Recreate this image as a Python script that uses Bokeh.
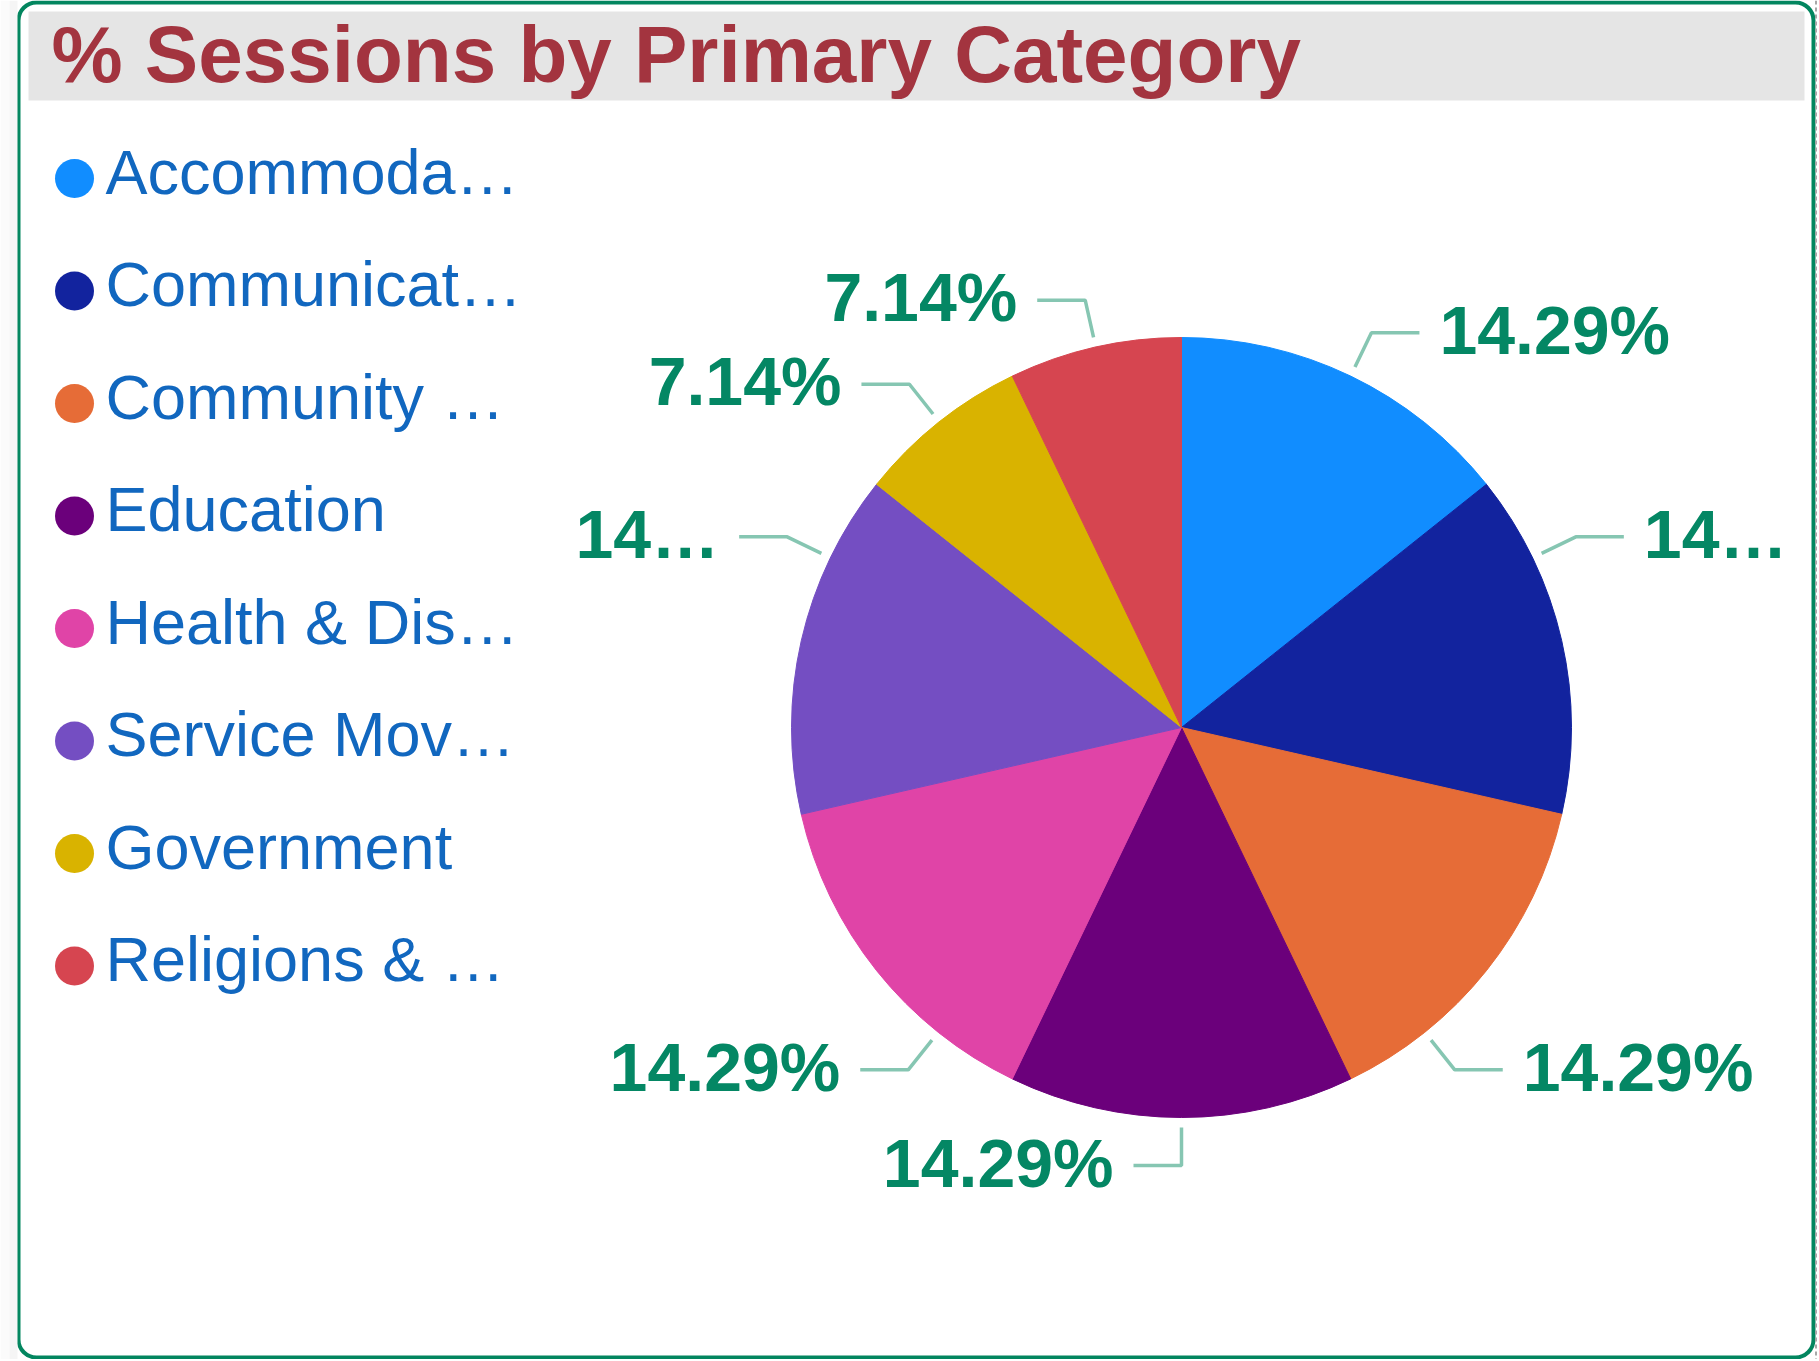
import math
from bokeh.plotting import figure
from bokeh.models import Range1d, ColumnDataSource, BoxAnnotation
from bokeh.embed import file_html
from bokeh.resources import INLINE
from bokeh.core.properties import value

# ---------------- data ----------------
categories = ["Accommoda…", "Communicat…", "Community …", "Education",
              "Health & Dis…", "Service Mov…", "Government", "Religions & …"]
sessions = [2, 2, 2, 2, 2, 2, 1, 1]
colors = ["#118DFF", "#12239E", "#E66C37", "#6B007B",
          "#E044A7", "#744EC2", "#D9B300", "#D64550"]
title_text = "% Sessions by Primary Category"

# ---------------- layout (not data) ----------------
# angle (deg, clockwise from 12 o'clock) where each leader line leaves the pie
label_angle_deg = [25.7, 64.2, 141.4, 180.0, 218.6, 295.8, 321.6, 347.3]
# labels clipped by the visual (None = full text)
label_max_chars = [None, 2, None, None, None, 2, None, None]

W, H = 1817, 1359
BASE_FIX = 0.38  # svg alphabetic-baseline correction (em)


def Y(py):
    """page-pixel y (downwards) -> data y"""
    return H - py


def YT(py, size):
    """baseline position for text of given px size"""
    return H - (py - BASE_FIX * size)


CX, CY, R = 1181, 727, 390
FONT = value("Liberation Sans")
LABEL_GREEN = "#048764"

p = figure(width=W, height=H, x_range=Range1d(0, W), y_range=Range1d(0, H),
           output_backend="svg", toolbar_location=None, min_border=0,
           x_axis_type=None, y_axis_type=None)
p.grid.visible = False
p.outline_line_color = None
p.background_fill_color = "white"
p.border_fill_color = "white"

# faint shadow left of the card and strip right of it
p.quad(left=[0, 9], right=[9, 17], bottom=[Y(1361)] * 2, top=[Y(0)] * 2,
       fill_color=["#fbfbfb", "#f5f5f5"], line_color=None)
p.segment(x0=[1816], y0=[Y(0)], x1=[1816], y1=[Y(1361)],
          line_color="#a8a8a8", line_width=3, line_dash="4 3")

# card border
card = BoxAnnotation(left=18, right=1813, top=Y(2), bottom=Y(1357),
                     fill_color="white", fill_alpha=1.0,
                     line_color="#03865F", line_alpha=1.0, line_width=4,
                     border_radius=18, level="underlay")
p.add_layout(card)

# title band + title
p.quad(left=[28], right=[1804], top=[Y(11)], bottom=[Y(100)],
       fill_color="#E5E5E5", line_color=None)
p.text(x=[51], y=[YT(84, 80)], text=[title_text], text_font=FONT,
       text_font_style="bold", text_font_size="80px", text_color="#A3343F",
       text_baseline="alphabetic", text_align="left")

# pie
total = sum(sessions)
fracs = [s / total for s in sessions]
starts, ends = [], []
cum = 0.0
for f in fracs:
    a0 = cum * 2 * math.pi
    a1 = (cum + f) * 2 * math.pi
    starts.append(math.pi / 2 - a1)
    ends.append(math.pi / 2 - a0)
    cum += f

pie_src = ColumnDataSource(dict(start=starts, end=ends, color=colors,
                                cat=categories))
p.wedge(x=CX, y=Y(CY), radius=R, start_angle="start", end_angle="end",
        fill_color="color", line_color="color", line_width=1, source=pie_src)

# data labels with leader lines
LSIZE = 68
xs, ys, lx, ly, ltxt, lalign = [], [], [], [], [], []
for f, a_deg, mx in zip(fracs, label_angle_deg, label_max_chars):
    a = math.radians(a_deg)
    dx, dy = math.sin(a), -math.cos(a)
    sx, sy = CX + (R + 10) * dx, CY + (R + 10) * dy
    ex, ey = CX + (R + 48) * dx, CY + (R + 48) * dy
    side = 1 if dx > 1e-6 else -1
    hx = ex + side * 48
    xs.append([sx, ex, hx])
    ys.append([Y(sy), Y(ey), Y(ey)])
    txt = f"{100 * f:.2f}%"
    if mx is not None:
        txt = txt[:mx] + "…"
    lx.append(hx + side * 20)
    ly.append(YT(ey + 23, LSIZE))
    ltxt.append(txt)
    lalign.append("left" if side > 0 else "right")

p.multi_line(xs=xs, ys=ys, line_color="#86C6B2", line_width=3.5)
p.text(x=lx, y=ly, text=ltxt, text_align=lalign, text_baseline="alphabetic",
       text_font=FONT, text_font_style="bold", text_font_size=f"{LSIZE}px",
       text_color=LABEL_GREEN)

# legend
n = len(categories)
leg_y_dot = [Y(178 + i * 112.5) for i in range(n)]
leg_y_txt = [YT(195 + i * 112.5, 63) for i in range(n)]
p.scatter(x=[74] * n, y=leg_y_dot, size=39, marker="circle",
          fill_color=colors, line_color=None)
p.text(x=[105] * n, y=leg_y_txt, text=categories,
       text_font=FONT, text_font_size="63px", text_color="#1167BF",
       text_baseline="alphabetic", text_align="left")

open("out.html", "w").write(file_html(p, INLINE))
